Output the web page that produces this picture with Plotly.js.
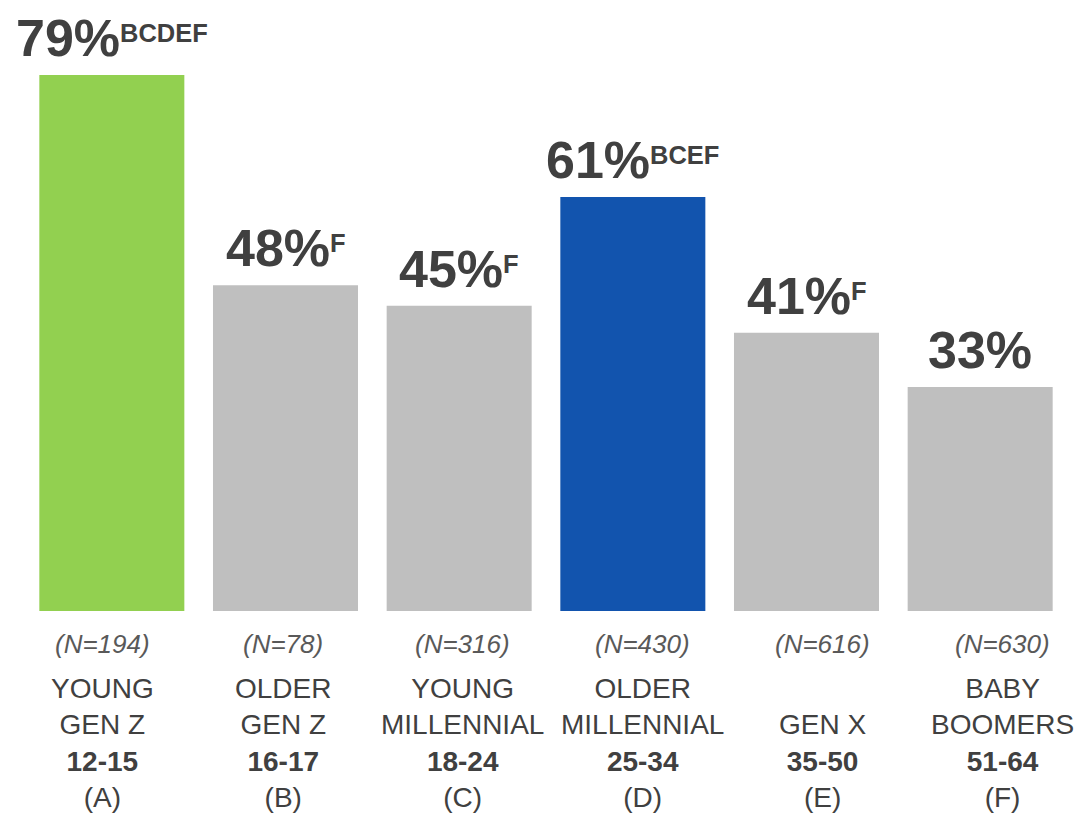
<!DOCTYPE html>
<html>
<head>
<meta charset="utf-8">
<script src="https://cdn.plot.ly/plotly-3.0.1.min.js"></script>
<style>html,body{margin:0;padding:0;background:#fff;}</style>
</head>
<body>
<div id="chart" style="width:1089px;height:822px;"></div>
<script>
const categories = ["A", "B", "C", "D", "E", "F"];
const values = [79, 48, 45, 61, 41, 33];
const sigLetters = ["BCDEF", "F", "F", "BCEF", "F", ""];
const sampleSizes = [194, 78, 316, 430, 616, 630];
const nameLine1 = ["YOUNG", "OLDER", "YOUNG", "OLDER", "", "BABY"];
const nameLine2 = ["GEN Z", "GEN Z", "MILLENNIAL", "MILLENNIAL", "GEN X", "BOOMERS"];
const ageRanges = ["12-15", "16-17", "18-24", "25-34", "35-50", "51-64"];
const barColors = ["#92D050", "#BFBFBF", "#BFBFBF", "#1254AE", "#BFBFBF", "#BFBFBF"];

const FONT = "Arial, 'Liberation Sans', sans-serif";
const TXT = "#404040";

const trace = {
  type: "bar",
  x: categories,
  y: values,
  marker: {color: barColors},
  hoverinfo: "none"
};

const annotations = [];
categories.forEach((c, i) => {
  const sup = sigLetters[i] ? "<sup><sub>" + sigLetters[i] + "</sub></sup>" : "";
  annotations.push({
    xref: "x", yref: "y", x: c, y: values[i],
    xanchor: "center", yanchor: "bottom",
    text: "<b>" + values[i] + "%" + sup + "</b>",
    showarrow: false,
    font: {family: FONT, size: 52, color: TXT},
    yshift: 6
  });
  annotations.push({
    xref: "x2", yref: "paper", x: i, y: 0,
    xanchor: "center", yanchor: "top",
    text: "<i>(N=" + sampleSizes[i] + ")</i>",
    showarrow: false,
    font: {family: FONT, size: 26, color: "#595959"},
    yshift: -16
  });
  annotations.push({
    xref: "x2", yref: "paper", x: i, y: 0,
    xanchor: "center", yanchor: "top",
    text: (nameLine1[i] || " ") + "<br>" + nameLine2[i] + "<br><b>" + ageRanges[i] + "</b><br>(" + c + ")",
    showarrow: false,
    font: {family: FONT, size: 28, color: TXT},
    yshift: -60
  });
});

const layout = {
  width: 1089, height: 822,
  margin: {l: 25, r: 22, t: 0, b: 211, pad: 0},
  paper_bgcolor: "#ffffff", plot_bgcolor: "#ffffff",
  bargap: 0.165,
  showlegend: false,
  xaxis: {type: "category", range: [-0.5, 5.5], visible: false, fixedrange: true},
  xaxis2: {overlaying: "x", range: [-0.433, 5.356], visible: false, fixedrange: true},
  yaxis: {range: [0, 90.05], visible: false, fixedrange: true},
  annotations: annotations
};

Plotly.newPlot("chart", [trace], layout, {displayModeBar: false, staticPlot: true});
</script>
</body>
</html>
